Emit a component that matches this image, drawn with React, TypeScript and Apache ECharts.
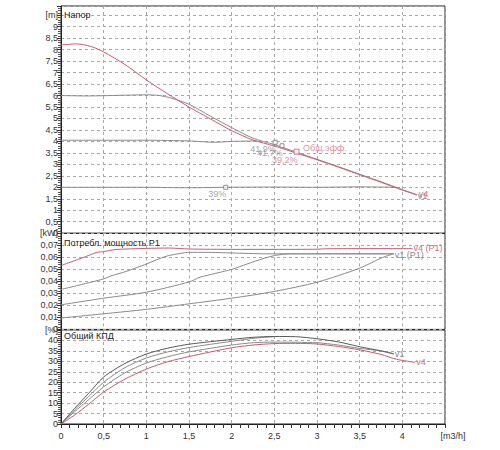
import React, { useEffect, useRef } from "react";
import * as echarts from "echarts";

// ---- data ----
const X_MIN = 0;
const X_MAX = 4.5;
const X_STEP = 0.5;

const HEAD_MAX = 9.9;
const HEAD_STEP = 0.5;
const POWER_MAX = 0.08;
const POWER_STEP = 0.01;
const EFF_MAX = 45;
const EFF_STEP = 5;

const headV4: number[][] = [
  [0, 8.2], [0.18, 8.25], [0.35, 8.14], [0.5, 7.9], [0.75, 7.35], [1, 6.68],
  [1.25, 6.07], [1.5, 5.5], [1.75, 4.98], [2, 4.47], [2.25, 4.06], [2.5, 3.8],
  [2.75, 3.5], [3, 3.2], [3.25, 2.88], [3.5, 2.55], [3.75, 2.22], [4, 1.88], [4.17, 1.66],
];
const headH6: number[][] = [
  [0, 6.0], [0.3, 5.98], [0.6, 6.0], [1.0, 6.03], [1.15, 6.0], [1.3, 5.88],
  [1.5, 5.62], [1.75, 5.1], [2, 4.6], [2.25, 4.14], [2.5, 3.86], [2.75, 3.54],
  [3, 3.22], [3.25, 2.9], [3.5, 2.57], [3.75, 2.24], [4, 1.9], [4.17, 1.68],
];
const headH4: number[][] = [
  [0, 4.05], [0.5, 4.05], [1, 4.05], [1.5, 4.02], [1.8, 3.96], [2.0, 4.0], [2.3, 4.02],
];
const headH2: number[][] = [
  [0, 2.0], [0.5, 2.0], [1, 2.0], [1.5, 1.98], [1.93, 2.0], [2.5, 2.01], [3, 2.0],
  [3.5, 2.02], [3.93, 2.0],
];

const dutyGray: (number | string)[][] = [
  [1.93, 2.0, "39%"],
  [2.51, 3.96, "41,9%"],
  [2.59, 3.81, "41,7%"],
];
const dutyPink: (number | string)[][] = [[2.76, 3.55, "39,2%"]];
const dutyPinkName = "Общ.эфф.";

const powerV4: number[][] = [
  [0, 0.0532], [0.16, 0.0573], [0.32, 0.0615], [0.42, 0.0642], [0.5, 0.0648],
  [0.63, 0.0665], [1, 0.0675], [1.27, 0.0678], [1.5, 0.067], [2, 0.0667],
  [2.5, 0.0667], [3, 0.0668], [3.1, 0.0672], [3.5, 0.0673], [4, 0.0673], [4.12, 0.0673],
];
const powerH6: number[][] = [
  [0, 0.0333], [0.16, 0.036], [0.32, 0.0388], [0.5, 0.0421], [0.6, 0.0449],
  [0.76, 0.0482], [1, 0.0545], [1.23, 0.0609], [1.43, 0.0637], [1.5, 0.0642],
  [1.7, 0.0642], [2, 0.0637], [2.4, 0.063], [3, 0.063], [3.5, 0.063], [3.9, 0.063],
];
const powerH4: number[][] = [
  [0, 0.0205], [0.5, 0.026], [1, 0.031], [1.5, 0.0395], [1.63, 0.0435], [2, 0.05],
  [2.28, 0.057], [2.5, 0.0615], [2.7, 0.063], [3, 0.063], [3.5, 0.063], [3.9, 0.063],
];
const powerH2: number[][] = [
  [0, 0.0095], [0.5, 0.013], [1, 0.0167], [1.5, 0.0213], [2, 0.026], [2.5, 0.0316],
  [3, 0.0393], [3.5, 0.051], [3.77, 0.06], [3.9, 0.063],
];

const effV4: number[][] = [
  [0, 0], [0.16, 4.3], [0.32, 9.3], [0.5, 15.3], [0.75, 21.5], [1, 26.3], [1.25, 29.8],
  [1.5, 32.3], [2, 36.5], [2.25, 37.8], [2.5, 38.5], [2.75, 38.6], [3, 38.3],
  [3.25, 37.1], [3.5, 35.5], [3.75, 33.3], [3.93, 31], [4.15, 29.5],
];
const effH6: number[][] = [
  [0, 0], [0.16, 7.5], [0.32, 14.5], [0.5, 22.5], [0.75, 29], [1, 33.5], [1.25, 36.3],
  [1.5, 38.2], [2, 40.5], [2.25, 41.5], [2.5, 41.9], [2.75, 41.8], [3, 40.8],
  [3.25, 39.3], [3.5, 37], [3.75, 35], [3.9, 33.5],
];
const effH4: number[][] = [
  [0, 0], [0.16, 6.7], [0.32, 13], [0.5, 20], [0.75, 27], [1, 31.6], [1.25, 34.5],
  [1.5, 36.6], [2, 39.6], [2.3, 41.2], [2.5, 41.8],
];
const effH2: number[][] = [
  [0, 0], [0.16, 5.9], [0.32, 11.5], [0.5, 17.8], [0.75, 24.5], [1, 29.2], [1.25, 32.2],
  [1.5, 34.5], [2, 37.8], [2.25, 38.9], [2.5, 39.2], [3, 38.9], [3.25, 37.8],
  [3.5, 36.2], [3.75, 35], [3.9, 33.7],
];

const TITLES = ["Напор", "Потребл. мощность P1", "Общий КПД"];
const UNIT_HEAD = "[m]";
const UNIT_POWER = "[kW]";
const UNIT_EFF = "[%]";
const UNIT_FLOW = "[m3/h]";

// ---- styles ----
const FONT = 'Arial, "Liberation Sans", sans-serif';
const RED = "#c95a72";
const PINK_TXT = "#d0708a";
const GRAY = "#8a8a8a";
const DARK = "#5a5a5a";
const TXT = "#333";

const near = (a: number, b: number) => Math.abs(a - b) < 1e-6;
const comma = (v: number, d: number) => String(+v.toFixed(d)).replace(".", ",");

function lineSeries(
  data: number[][],
  idx: number,
  color: string,
  end?: { text: string; color: string; offset?: number[] },
  z = 2
) {
  const s: any = {
    type: "line",
    data,
    xAxisIndex: idx,
    yAxisIndex: idx,
    showSymbol: false,
    smooth: 0.25,
    lineStyle: { color, width: 1 },
    itemStyle: { color },
    z,
    silent: true,
  };
  if (end) {
    s.endLabel = {
      show: true,
      formatter: end.text,
      color: end.color,
      fontSize: 9,
      fontFamily: FONT,
      distance: 1,
      offset: end.offset || [0, 0],
    };
  }
  return s;
}

export default function App() {
  const ref = useRef<HTMLDivElement>(null);

  useEffect(() => {
    document.body.style.margin = "0";
    const chart = echarts.init(ref.current!, null, { renderer: "svg" });

    const grids = [
      { left: 61, width: 384, top: 6, height: 227.2 },
      { left: 61, width: 384, top: 233.4, height: 96 },
      { left: 61, width: 384, top: 330, height: 94 },
    ].map((g) => ({ ...g, show: true, borderColor: "#222", borderWidth: 1, backgroundColor: "transparent" }));

    const splitDashed = { show: true, lineStyle: { color: "#a8a8a8", type: [3, 3], width: 1 } };

    const xAxes = [0, 1, 2].map((i) => ({
      type: "value",
      gridIndex: i,
      min: X_MIN,
      max: X_MAX,
      interval: X_STEP,
      axisLine: { show: i === 2, lineStyle: { color: "#222" } },
      axisTick: { show: i === 2, length: 4, lineStyle: { color: "#333" } },
      minorTick: { show: i === 2, splitNumber: 5, length: 4, lineStyle: { color: "#333" } },
      splitLine: splitDashed,
      axisLabel: {
        show: i === 2,
        color: TXT,
        fontSize: 9,
        fontFamily: FONT,
        margin: 7,
        showMaxLabel: true,
        showMinLabel: true,
        formatter: (v: number) => (near(v, X_MAX) ? "{u|" + UNIT_FLOW + "}" : comma(v, 1)),
        rich: { u: { color: TXT, fontSize: 9, fontFamily: FONT, padding: [0, 0, 0, 16] } },
      },
    }));

    const yCommon = {
      type: "value",
      axisLine: { show: true, lineStyle: { color: "#222" } },
      axisTick: { show: true, length: 4, lineStyle: { color: "#333" } },
      minorTick: { show: true, splitNumber: 5, length: 3, lineStyle: { color: "#555" } },
      splitLine: splitDashed,
    };
    const labelCommon = { color: TXT, fontSize: 9, fontFamily: FONT, margin: 3, showMaxLabel: true, showMinLabel: true };

    const yAxes = [
      {
        ...yCommon,
        gridIndex: 0,
        min: 0,
        max: HEAD_MAX,
        interval: HEAD_STEP,
        axisLabel: {
          ...labelCommon,
          formatter: (v: number) => (v > 9.6 ? "" : near(v, 9.5) ? UNIT_HEAD : comma(v, 1)),
        },
      },
      {
        ...yCommon,
        gridIndex: 1,
        min: 0,
        max: POWER_MAX,
        interval: POWER_STEP,
        axisLabel: {
          ...labelCommon,
          formatter: (v: number) => (near(v, POWER_MAX) ? UNIT_POWER : near(v, 0) ? "0" : v.toFixed(2).replace(".", ",")),
        },
      },
      {
        ...yCommon,
        gridIndex: 2,
        min: 0,
        max: EFF_MAX,
        interval: EFF_STEP,
        axisLabel: {
          ...labelCommon,
          formatter: (v: number) => (near(v, EFF_MAX) ? UNIT_EFF : String(Math.round(v))),
        },
      },
    ];

    const titleTops = [10, 238, 331];
    const title = TITLES.map((t, i) => ({
      text: t,
      left: 64,
      top: titleTops[i],
      padding: 0,
      textStyle: { fontSize: 9, fontWeight: "normal", color: "#222", fontFamily: FONT },
    }));

    const markerLabel = (color: string) => ({
      show: true,
      position: "left",
      distance: 0,
      color,
      fontSize: 9,
      fontFamily: FONT,
      formatter: (p: any) => p.data[2],
    });

    const series: any[] = [
      // head
      lineSeries(headH2, 0, GRAY),
      lineSeries(headH4, 0, GRAY),
      lineSeries(headH6, 0, GRAY, { text: "v1", color: GRAY, offset: [0, 1] }),
      lineSeries(headV4, 0, RED, { text: "v4", color: PINK_TXT, offset: [1, -1] }, 3),
      {
        type: "scatter",
        xAxisIndex: 0,
        yAxisIndex: 0,
        data: dutyGray,
        symbol: "rect",
        symbolSize: 4,
        itemStyle: { color: "#fff", borderColor: "#777", borderWidth: 1 },
        label: { ...markerLabel("#8c8c8c"), offset: [3, 7] },
        z: 5,
      },
      {
        type: "scatter",
        xAxisIndex: 0,
        yAxisIndex: 0,
        data: dutyPink,
        symbol: "rect",
        symbolSize: 5,
        itemStyle: { color: "#fff", borderColor: RED, borderWidth: 1 },
        label: { ...markerLabel(PINK_TXT), offset: [4, 8] },
        z: 6,
      },
      {
        type: "scatter",
        xAxisIndex: 0,
        yAxisIndex: 0,
        data: dutyPink.map((d) => [d[0], d[1], dutyPinkName]),
        symbol: "circle",
        symbolSize: 1,
        itemStyle: { color: "rgba(0,0,0,0)" },
        label: {
          show: true,
          position: "right",
          distance: 6,
          offset: [0, -4],
          color: PINK_TXT,
          fontSize: 9,
          fontFamily: FONT,
          formatter: (p: any) => p.data[2],
        },
        z: 6,
      },
      // power
      lineSeries(powerH2, 1, GRAY),
      lineSeries(powerH4, 1, GRAY),
      lineSeries(powerH6, 1, GRAY, { text: "v1 (P1)", color: GRAY, offset: [0, 1] }),
      lineSeries(powerV4, 1, RED, { text: "v4 (P1)", color: PINK_TXT, offset: [0, -1] }, 3),
      // efficiency
      lineSeries(effH2, 2, GRAY),
      lineSeries(effH4, 2, GRAY),
      lineSeries(effH6, 2, DARK, { text: "v1", color: GRAY }),
      lineSeries(effV4, 2, RED, { text: "v4", color: PINK_TXT }, 3),
    ];

    chart.setOption({
      animation: false,
      backgroundColor: "#fff",
      textStyle: { fontFamily: FONT },
      title,
      grid: grids,
      xAxis: xAxes,
      yAxis: yAxes,
      series,
    });

    return () => chart.dispose();
  }, []);

  return <div ref={ref} style={{ width: 500, height: 450 }} />;
}
